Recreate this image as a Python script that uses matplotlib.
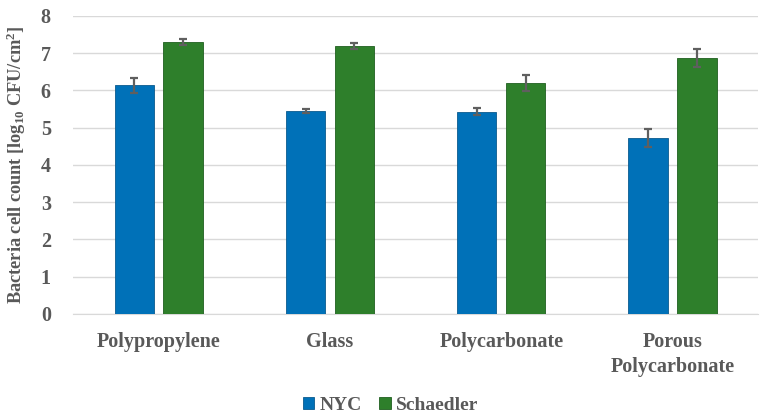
import matplotlib
matplotlib.use("Agg")
import matplotlib.pyplot as plt
import numpy as np

# 데이터
categories = ["Polypropylene", "Glass", "Polycarbonate", "Porous\nPolycarbonate"]
series = ["NYC", "Schaedler"]
nyc = [6.14, 5.44, 5.43, 4.72]
nyc_err = [0.2, 0.06, 0.1, 0.24]
schaedler = [7.30, 7.19, 6.20, 6.87]
schaedler_err = [0.09, 0.08, 0.21, 0.24]
yticks = [0, 1, 2, 3, 4, 5, 6, 7, 8]

colors = ["#0071B8", "#2E7F2B"]
edges = ["#0A5A8E", "#1F5F1F"]
text_color = "#595959"

plt.rcParams["font.family"] = ["Liberation Serif", "DejaVu Serif"]
plt.rcParams["mathtext.default"] = "regular"

fig = plt.figure(figsize=(7.69, 4.18), dpi=100)
ax = fig.add_axes([0.095, 0.249, 0.891, 0.713])

x = np.arange(len(categories))
w = 0.23
off = 0.143
err_kw = dict(ecolor="#5f5f5f", elinewidth=1.6, capsize=3, capthick=1.6)
ax.bar(x - off, nyc, w, yerr=nyc_err, color=colors[0], edgecolor=edges[0],
       linewidth=0.6, label=series[0], error_kw=err_kw, zorder=3)
ax.bar(x + off, schaedler, w, yerr=schaedler_err, color=colors[1], edgecolor=edges[1],
       linewidth=0.6, label=series[1], error_kw=err_kw, zorder=3)

ax.set_xlim(-0.5, 3.5)
ax.set_ylim(0, 8)
ax.set_yticks(yticks)
ax.set_xticks(x)
ax.set_xticklabels(categories, fontsize=14.5, fontweight="bold", color=text_color,
                   linespacing=1.35)
ax.set_yticklabels([str(t) for t in yticks], fontsize=14.5, fontweight="bold", color=text_color)
ax.tick_params(axis="both", length=0)
ax.tick_params(axis="x", pad=13)
ax.tick_params(axis="y", pad=16)
ax.grid(axis="y", color="#d9d9d9", linewidth=1.0, zorder=0)
for s in ["top", "right", "left"]:
    ax.spines[s].set_visible(False)
ax.spines["bottom"].set_color("#d9d9d9")

ax.set_ylabel(r"Bacteria cell count [log$_{10}$ CFU/cm$^{2}$]", fontsize=13.2,
              fontweight="bold", color=text_color, labelpad=9)

# 범례 - 아래 가운데
leg = fig.legend(loc="lower center", bbox_to_anchor=(0.508, -0.032), ncol=2, frameon=False,
                 prop=dict(size=14, weight="bold"), handlelength=0.6, handleheight=0.6,
                 handletextpad=0.3, columnspacing=0.85)
for t in leg.get_texts():
    t.set_color(text_color)

fig.savefig("out.png", dpi=100)
